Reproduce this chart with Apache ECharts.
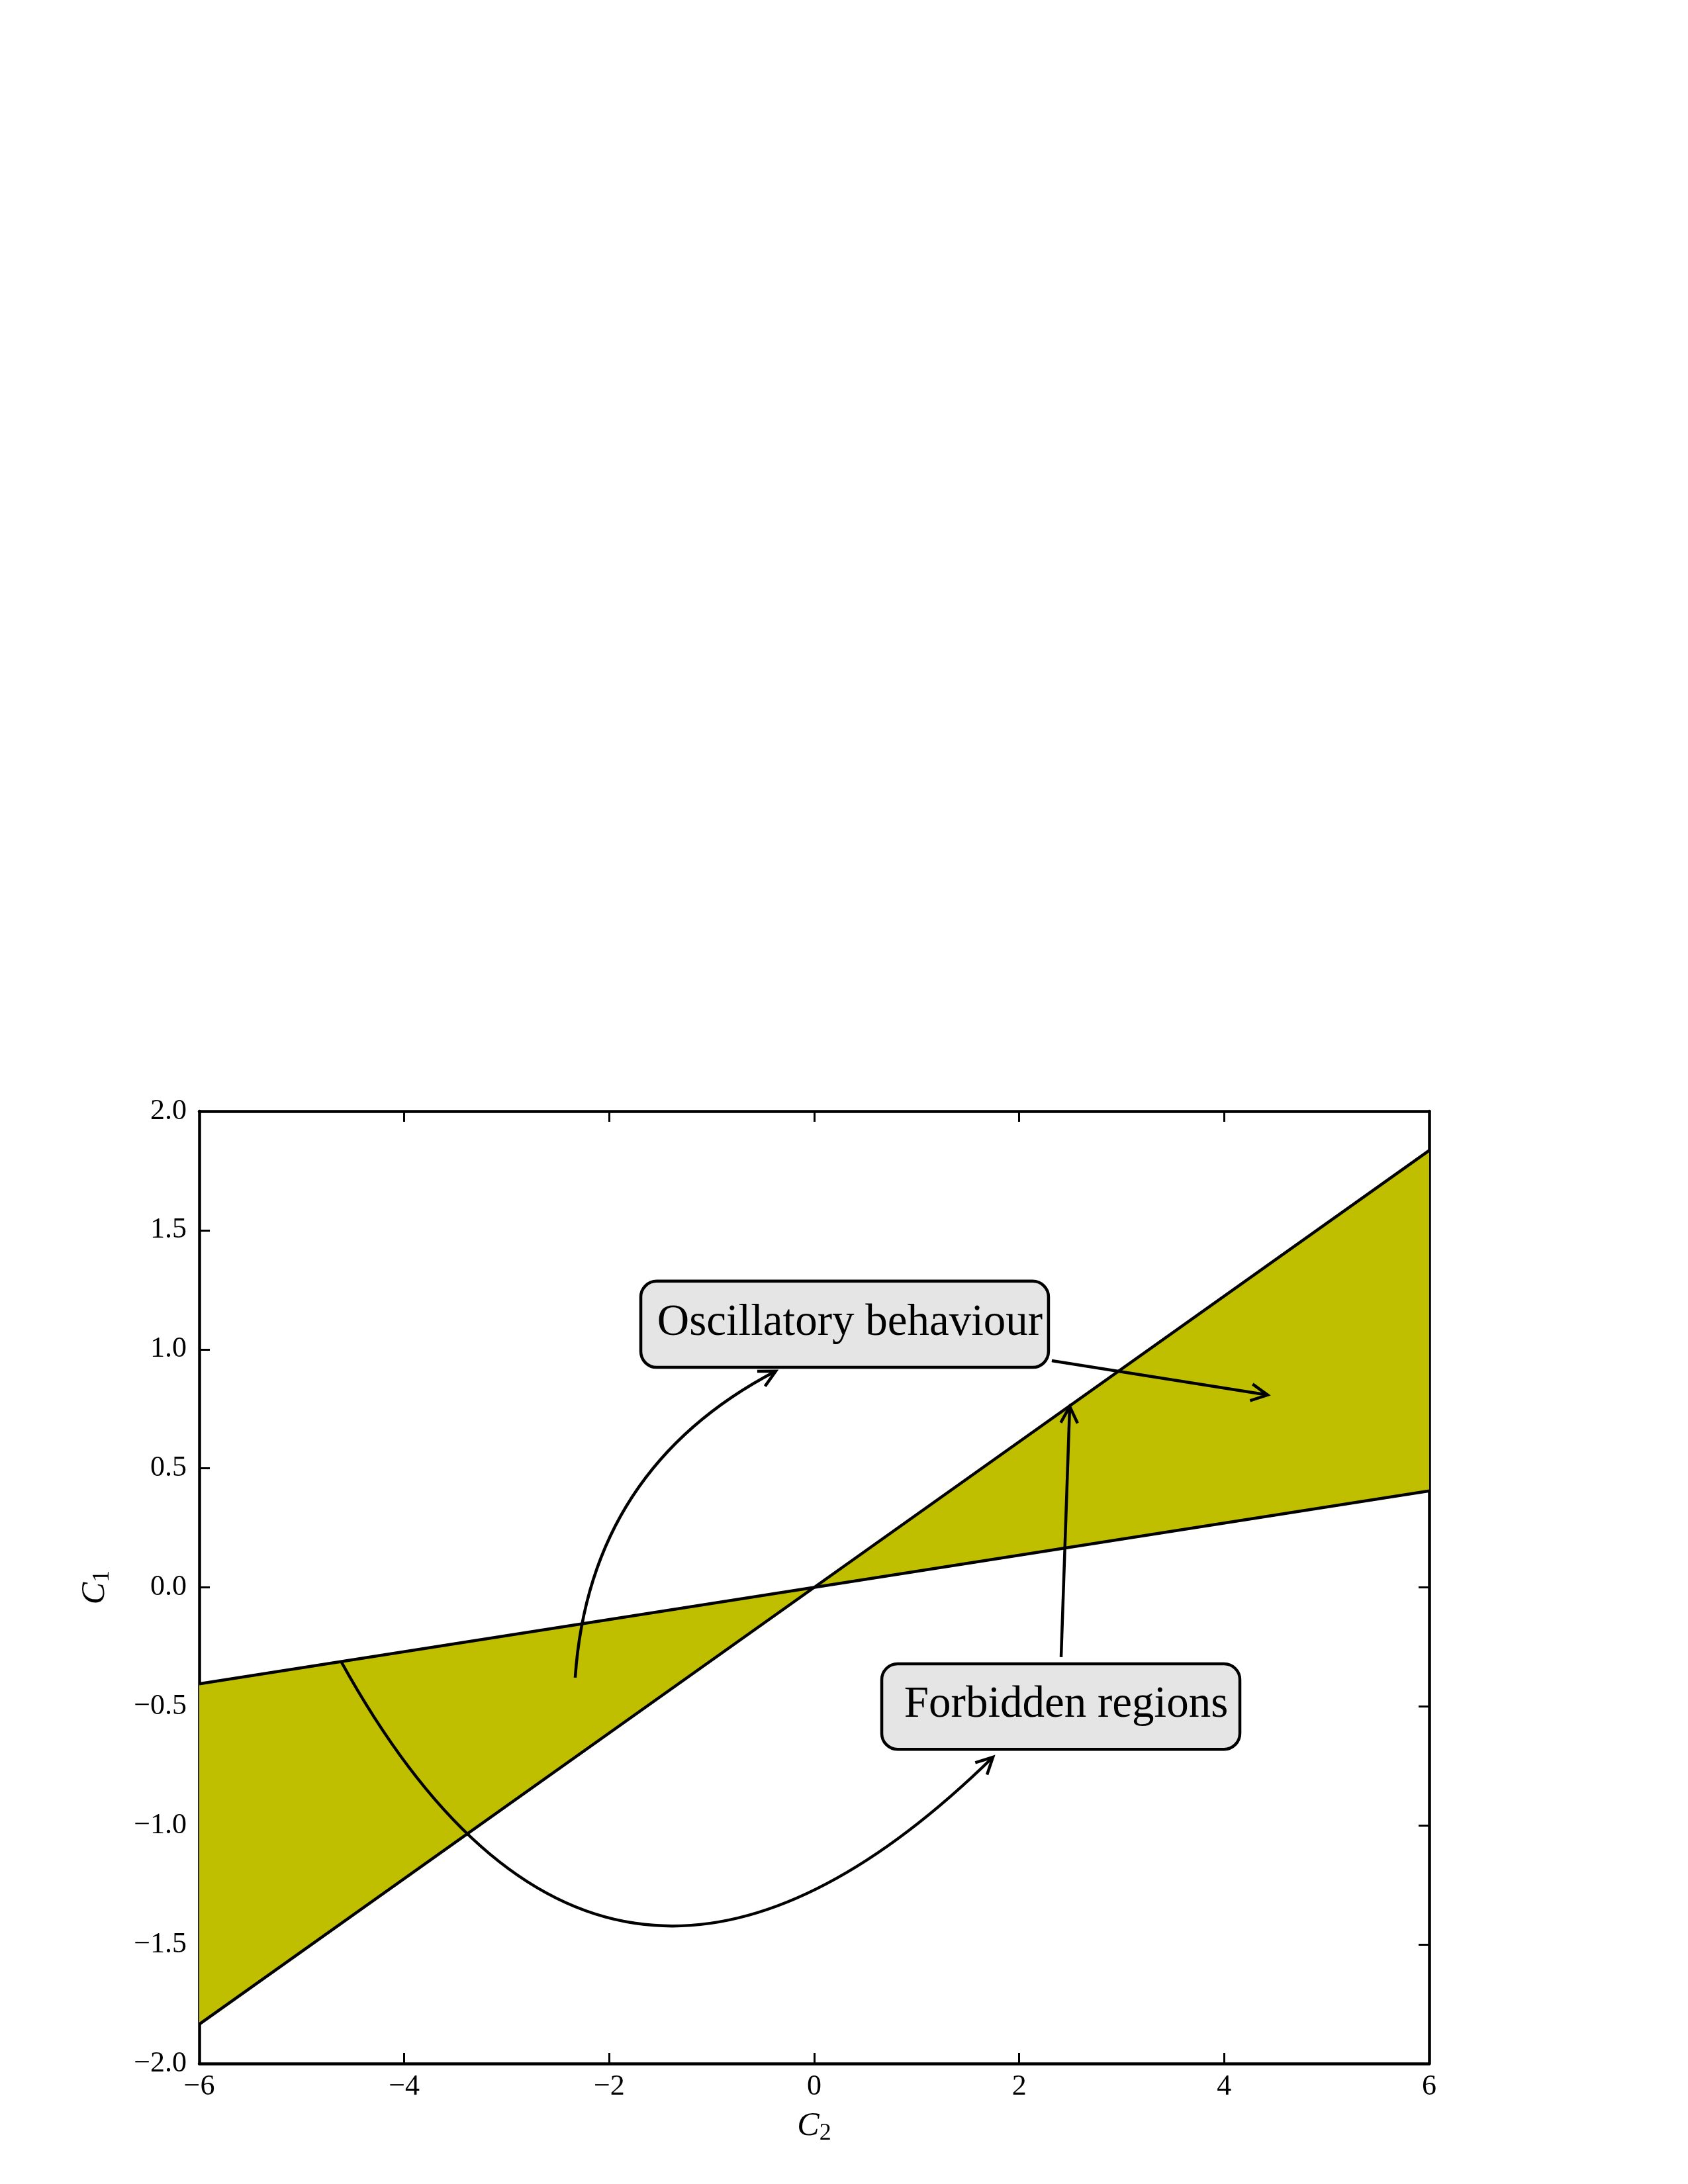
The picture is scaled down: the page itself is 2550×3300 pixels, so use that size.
<!DOCTYPE html>
<html><head><meta charset="utf-8">
<script src="https://cdn.jsdelivr.net/npm/echarts@6/dist/echarts.min.js"></script>
<style>html,body{margin:0;padding:0;background:#fff}#c{width:2550px;height:3300px}</style>
</head><body><div id="c"></div>
<script>
// ---- data ----
const fillC2 = [-6, 0, 6];
const steepC1 = [-1.835, 0, 1.835];
const shallowC1 = [-0.405, 0, 0.405];
const noteLabels = ['Oscillatory behaviour', 'Forbidden regions'];
const noteBoxC2 = [[-1.692, 2.286], [0.659, 4.153]];
const noteBoxC1 = [[0.924, 1.286], [-0.680, -0.321]];
const arrowFrom = [[-2.332, -0.379], [2.318, 0.952], [2.409, -0.293], [-4.618, -0.310]];
const arrowTo = [[-0.375, 0.908], [4.424, 0.808], [2.493, 0.760], [1.744, -0.713]];
const arrowBend = [-0.28, 0, 0, 0.657];

const FONT = '"Liberation Serif", "Times New Roman", serif';
const fmtMinus = s => s.replace('-', '\u2212');

const chart = echarts.init(document.getElementById('c'), null, {renderer: 'canvas'});

function axisCommon() {
  return {
    axisLine: {show: true, onZero: false, lineStyle: {color: '#000', width: 4.5}},
    axisTick: {show: true, inside: true, length: 16, lineStyle: {color: '#000', width: 3}},
    splitLine: {show: false}
  };
}

const fillData = [];
for (let i = 0; i < fillC2.length - 1; i++) fillData.push([i]);

const option = {
  backgroundColor: '#fff',
  animation: false,
  grid: {left: 301, top: 1679, width: 1858, height: 1439, containLabel: false},
  xAxis: [
    Object.assign({
      type: 'value', position: 'bottom', min: -6, max: 6, interval: 2,
      name: '{c|C}{s|2}', nameLocation: 'middle', nameGap: 66,
      nameTextStyle: {rich: {
        c: {fontFamily: FONT, fontStyle: 'italic', fontSize: 50, color: '#000'},
        s: {fontFamily: FONT, fontSize: 36, color: '#000', padding: [22, 0, 0, 0]}
      }},
      axisLabel: {fontFamily: FONT, fontSize: 44, color: '#000', margin: 13,
        formatter: v => fmtMinus(String(v))}
    }, axisCommon()),
    Object.assign({
      type: 'value', position: 'top', min: -6, max: 6, interval: 2,
      axisLabel: {show: false}
    }, axisCommon())
  ],
  yAxis: [
    Object.assign({
      type: 'value', position: 'left', min: -2, max: 2, interval: 0.5,
      name: '{c|C}{s|1}', nameLocation: 'middle', nameGap: 128,
      nameTextStyle: {rich: {
        c: {fontFamily: FONT, fontStyle: 'italic', fontSize: 50, color: '#000'},
        s: {fontFamily: FONT, fontSize: 36, color: '#000', padding: [22, 0, 0, 0]}
      }},
      axisLabel: {fontFamily: FONT, fontSize: 44, color: '#000', margin: 19,
        formatter: v => fmtMinus(v.toFixed(1))}
    }, axisCommon()),
    Object.assign({
      type: 'value', position: 'right', min: -2, max: 2, interval: 0.5,
      axisLabel: {show: false}
    }, axisCommon())
  ],
  series: [
    {
      type: 'custom', name: 'fill', xAxisIndex: 0, yAxisIndex: 0, z: 1,
      data: fillData,
      renderItem: (params, api) => {
        const i = api.value(0);
        const pts = [
          api.coord([fillC2[i], steepC1[i]]),
          api.coord([fillC2[i + 1], steepC1[i + 1]]),
          api.coord([fillC2[i + 1], shallowC1[i + 1]]),
          api.coord([fillC2[i], shallowC1[i]])
        ];
        return {type: 'polygon', shape: {points: pts}, style: {fill: '#bfbf00', stroke: null}};
      }
    },
    {
      type: 'line', name: 'steep', xAxisIndex: 0, yAxisIndex: 0, z: 3,
      data: fillC2.map((x, i) => [x, steepC1[i]]),
      showSymbol: false, symbol: 'none',
      lineStyle: {color: '#000', width: 4.5}
    },
    {
      type: 'line', name: 'shallow', xAxisIndex: 0, yAxisIndex: 0, z: 3,
      data: fillC2.map((x, i) => [x, shallowC1[i]]),
      showSymbol: false, symbol: 'none',
      lineStyle: {color: '#000', width: 4.5}
    },
    {
      type: 'custom', name: 'notes', xAxisIndex: 0, yAxisIndex: 0, z: 5, clip: false,
      data: [[0, 0]],
      renderItem: (params, api) => {
        const children = [];
        for (let k = 0; k < noteLabels.length; k++) {
          const p0 = api.coord([noteBoxC2[k][0], noteBoxC1[k][1]]);
          const p1 = api.coord([noteBoxC2[k][1], noteBoxC1[k][0]]);
          children.push({
            type: 'rect',
            shape: {x: p0[0], y: p0[1], width: p1[0] - p0[0], height: p1[1] - p0[1], r: 24},
            style: {fill: '#e5e5e5', stroke: '#000', lineWidth: 4.5}
          });
          children.push({
            type: 'text',
            style: {
              x: (p0[0] + p1[0]) / 2 + 8, y: (p0[1] + p1[1]) / 2 - 2,
              text: noteLabels[k], font: '67px ' + FONT, fill: '#000',
              align: 'center', verticalAlign: 'middle'
            }
          });
        }
        for (let k = 0; k < arrowFrom.length; k++) {
          const s = api.coord(arrowFrom[k]);
          const e = api.coord(arrowTo[k]);
          const dx = e[0] - s[0], dy = e[1] - s[1];
          const mx = (s[0] + e[0]) / 2, my = (s[1] + e[1]) / 2;
          const r = arrowBend[k];
          const cx = mx - r * dy, cy = my + r * dx;
          let tx, ty;
          if (r !== 0) {
            children.push({
              type: 'bezierCurve',
              shape: {x1: s[0], y1: s[1], x2: e[0], y2: e[1], cpx1: cx, cpy1: cy},
              style: {stroke: '#000', lineWidth: 4.5, fill: null}
            });
            tx = e[0] - cx; ty = e[1] - cy;
          } else {
            children.push({
              type: 'line',
              shape: {x1: s[0], y1: s[1], x2: e[0], y2: e[1]},
              style: {stroke: '#000', lineWidth: 4.5}
            });
            tx = dx; ty = dy;
          }
          const L = Math.hypot(tx, ty);
          const ux = tx / L, uy = ty / L;
          const hl = 28, ang = 27 * Math.PI / 180;
          const ca = Math.cos(ang), sa = Math.sin(ang);
          const w1 = [e[0] - hl * (ux * ca - uy * sa), e[1] - hl * (uy * ca + ux * sa)];
          const w2 = [e[0] - hl * (ux * ca + uy * sa), e[1] - hl * (uy * ca - ux * sa)];
          children.push({
            type: 'polyline',
            shape: {points: [w1, e, w2]},
            style: {stroke: '#000', lineWidth: 4.5, fill: null, lineJoin: 'miter'}
          });
        }
        return {type: 'group', children: children};
      }
    }
  ]
};
chart.setOption(option);
</script>
</body></html>
